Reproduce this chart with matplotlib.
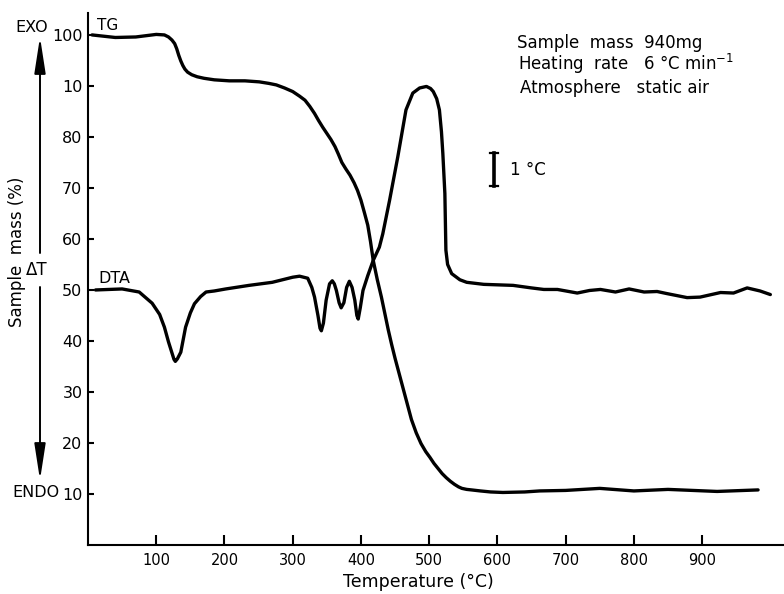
import matplotlib
matplotlib.use("Agg")
import matplotlib.pyplot as plt

# ---------------- data ----------------
tg_temp = [6, 40, 70, 100, 112, 118, 123, 127, 130, 133, 136, 139, 142, 146, 152,
           160, 170, 185, 207, 230, 251, 265, 276, 288, 300, 310, 318, 325, 332,
           338, 344, 350, 356, 362, 367, 372, 378, 384, 390, 395, 400, 405, 410,
           414, 418, 424, 430, 435, 440, 445, 450, 456, 462, 468, 474, 481, 488,
           495, 501, 507, 513, 519, 525, 531, 537, 543, 548, 555, 562, 575, 590,
           608, 640, 662, 700, 750, 800, 850, 922, 982]
tg_mass = [100.0, 99.5, 99.6, 100.1, 100.0, 99.6, 99.0, 98.3, 97.3, 96.0, 94.9,
           94.0, 93.3, 92.7, 92.2, 91.8, 91.5, 91.2, 91.0, 91.0, 90.8, 90.5, 90.2,
           89.6, 88.9, 88.0, 87.2, 86.0, 84.6, 83.2, 81.9, 80.7, 79.5, 78.1, 76.6,
           75.0, 73.7, 72.5, 71.0, 69.5, 67.6, 65.2, 62.7, 59.5, 55.8, 52.0, 48.6,
           45.4, 42.2, 39.3, 36.6, 33.6, 30.6, 27.6, 24.6, 22.0, 19.9, 18.3, 17.2,
           16.0, 15.0, 14.0, 13.2, 12.5, 11.9, 11.4, 11.1, 10.9, 10.8, 10.6, 10.4,
           10.3, 10.4, 10.6, 10.7, 11.1, 10.6, 10.9, 10.5, 10.8]

dta_temp = [11, 50, 75, 94, 105, 112, 118, 122, 126, 128, 131, 136, 143, 150, 156,
            165, 173, 185, 202, 236, 270, 300, 310, 322, 328, 332, 337, 340, 342,
            345, 349, 354, 358, 361, 364, 368, 371, 375, 379, 383, 387, 391, 394,
            396, 399, 403, 410, 418, 427, 432, 442, 454, 466, 476, 486, 496, 502,
            506, 511, 515, 518, 520, 523, 524.5, 527, 533, 545, 555, 580, 623, 650,
            668, 688, 717, 735, 751, 773, 793, 815, 834, 848, 878, 897, 927, 946,
            966, 985, 1000]
dta_signal = [50.0, 50.2, 49.6, 47.4, 45.2, 42.7, 39.8, 38.1, 36.4, 36.0, 36.5,
              37.8, 42.7, 45.5, 47.3, 48.7, 49.6, 49.8, 50.2, 50.9, 51.5, 52.5,
              52.7, 52.3, 50.5, 48.6, 45.0, 42.5, 42.0, 43.5, 48.0, 51.2, 51.8,
              51.2, 49.9, 47.5, 46.5, 47.5, 50.5, 51.7, 50.5, 48.0, 45.0, 44.3,
              46.5, 49.9, 52.8, 55.8, 58.4, 61.0, 67.6, 76.1, 85.3, 88.6, 89.6,
              89.9, 89.5, 88.9, 87.5, 85.3, 81.0, 76.8, 68.9, 57.8, 55.0, 53.2,
              52.0, 51.5, 51.1, 50.9, 50.4, 50.1, 50.1, 49.4, 49.9, 50.1, 49.6,
              50.2, 49.6, 49.7, 49.3, 48.5, 48.6, 49.5, 49.4, 50.4, 49.8, 49.1]

x_ticks = [100, 200, 300, 400, 500, 600, 700, 800, 900]
x_tick_labels = ["100", "200", "300", "400", "500", "600", "700", "800", "900"]
y_ticks = [10, 20, 30, 40, 50, 60, 70, 80, 90, 100]
y_tick_labels = ["10", "20", "30", "40", "50", "60", "70", "80", "10", "100"]

# ---------------- figure ----------------
W, H = 784, 594
fig = plt.figure(figsize=(W / 100, H / 100), dpi=100)
plt.rcParams['font.family'] = ['DejaVu Sans']


def fx(px):
    return px / W


def fy(py):
    return 1 - py / H


ax = fig.add_axes([fx(88), fy(545), fx(784 - 88), (545 - 13) / H])
ax.set_xlim(0, 1020)
ax.set_ylim(0, 104.3)

lw = 2.4
ax.plot(tg_temp, tg_mass, color="black", lw=lw, solid_capstyle="round",
        solid_joinstyle="round")
ax.plot(dta_temp, dta_signal, color="black", lw=lw, solid_capstyle="round",
        solid_joinstyle="round")

for s in ["top", "right"]:
    ax.spines[s].set_visible(False)
for s in ["left", "bottom"]:
    ax.spines[s].set_linewidth(1.5)

ax.set_xticks(x_ticks)
ax.set_xticklabels(x_tick_labels)
ax.set_yticks(y_ticks)
ax.set_yticklabels(y_tick_labels)
ax.tick_params(axis="x", direction="in", length=7, width=1.5, labelsize=10.5, pad=6)
ax.tick_params(axis="y", direction="in", length=4.5, width=1.5, labelsize=11.5, pad=4)

fs = 12
# curve labels
fig.text(fx(97), fy(30), "TG", fontsize=11, ha="left", va="baseline")
fig.text(fx(98), fy(283), "DTA", fontsize=11.5, ha="left", va="baseline")
fig.text(fx(15), fy(32), "EXO", fontsize=11.5, ha="left", va="baseline")
fig.text(fx(12), fy(497), "ENDO", fontsize=11.5, ha="left", va="baseline")

# conditions
fig.text(fx(517), fy(48), "Sample  mass  940mg", fontsize=fs, ha="left", va="baseline")
fig.text(fx(518), fy(70), "Heating  rate   6 °C min$^{-1}$", fontsize=fs, ha="left",
         va="baseline")
fig.text(fx(520), fy(93), "Atmosphere   static air", fontsize=fs, ha="left",
         va="baseline")

# scale bar 1 °C
fig.add_artist(plt.Line2D([fx(494), fx(494)], [fy(153), fy(186)], color="black",
                          lw=2.6, transform=fig.transFigure))
for yy in (153, 186):
    fig.add_artist(plt.Line2D([fx(490), fx(498)], [fy(yy), fy(yy)], color="black",
                              lw=1.6, transform=fig.transFigure))
fig.text(fx(510), fy(175), "1 °C", fontsize=fs, ha="left", va="baseline")

# axis titles
fig.text(fx(418), fy(587), "Temperature (°C)", fontsize=12.5, ha="center",
         va="baseline")
fig.text(fx(17), fy(252), "Sample  mass (%)", fontsize=12, ha="center",
         va="center", rotation=90)
fig.text(fx(37), fy(270), "ΔT", fontsize=fs, ha="center", va="center")

# EXO / ENDO arrows
arrow_style = "-|>,head_length=1.1,head_width=0.17"
ax.annotate("", xy=(40, H - 37), xycoords="figure pixels",
            xytext=(40, H - 253), textcoords="figure pixels",
            arrowprops=dict(arrowstyle=arrow_style, mutation_scale=20,
                            color="black", lw=1.4, shrinkA=0, shrinkB=0),
            annotation_clip=False)
ax.annotate("", xy=(40, H - 480), xycoords="figure pixels",
            xytext=(40, H - 287), textcoords="figure pixels",
            arrowprops=dict(arrowstyle=arrow_style, mutation_scale=20,
                            color="black", lw=1.4, shrinkA=0, shrinkB=0),
            annotation_clip=False)

fig.savefig("out.png", dpi=100)
